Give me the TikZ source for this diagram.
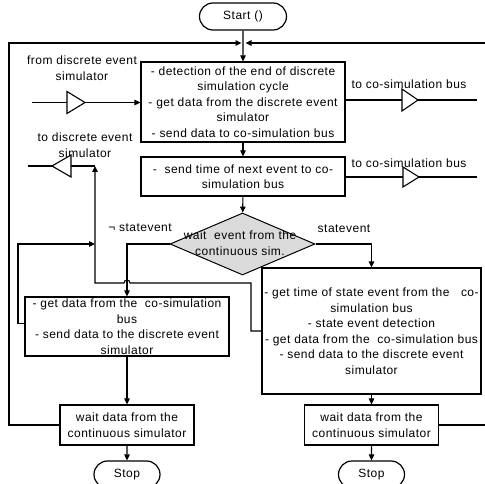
\documentclass[tikz,border=0pt]{standalone}
\usepackage{fontspec}
\setmainfont{Liberation Sans}[LetterSpace=4.0]
\usetikzlibrary{shapes.geometric,shapes.misc,arrows.meta}
\begin{document}
\begin{tikzpicture}[x=1pt,y=-1pt,
  every node/.style={font=\fontsize{12}{15.5}\selectfont},
  box/.style={draw,line width=1.2pt,rectangle,align=center,inner sep=0pt},
  term/.style={draw,line width=1.2pt,rounded rectangle,minimum width=66pt,minimum height=27pt,inner sep=0pt},
  decision/.style={draw,line width=1pt,diamond,fill=gray!28,minimum width=145pt,minimum height=62pt,inner sep=0pt},
  wire/.style={line width=1.1pt},
  arr/.style={wire,-{Triangle[length=6pt,width=5.5pt]}},
  buf/.style={line width=1.1pt,fill=white},
  lbl/.style={align=center,inner sep=0pt}
]
\useasboundingbox (0,0) rectangle (485,484);

% ---- main blocks ----
\node[term,minimum width=87pt] (start) at (243,16.5) {Start ()};
\node[box,minimum width=204pt,minimum height=80pt] (b1) at (243,102)
  {- detection of the end of discrete\\ simulation cycle\\ - get data from the discrete event\\ simulator\\ - send data to co-simulation bus};
\node[box,minimum width=204pt,minimum height=39pt] (b2) at (243,176.5)
  {-\ \ send time of next event to co-\\ simulation bus};
\node[decision] (dec) at (242.5,244) {};
\node[lbl] (dect) at (240,243) {wait\ \ event from the\\ continuous sim.};
\node[box,minimum width=204pt,minimum height=59pt] (lb) at (127,326.5)
  {- get data from the\ \ co-simulation\\ bus\\ - send data to the discrete event\\ simulator};
\node[box,minimum width=219pt,minimum height=126pt] (rb) at (371.5,331)
  {- get time of state event from the\ \ \ co-\\ simulation bus\\ - state event detection\\ - get data from the\ \ co-simulation bus\\ - send data to the discrete event\\ simulator};
\node[box,minimum width=134pt,minimum height=40pt] (lw) at (127,425)
  {wait data from the\\ continuous simulator};
\node[box,minimum width=134pt,minimum height=40pt] (rw) at (371.5,425)
  {wait data from the\\ continuous simulator};
\node[term] (ls) at (127,474.5) {Stop};
\node[term] (rs) at (371.5,474.5) {Stop};

% ---- labels ----
\node[lbl] (lfrom) at (82,68) {from discrete event\\ simulator};
\node[lbl] (lto) at (85,145) {to discrete event\\ simulator};
\node[lbl] (lco1) at (409,84) {to co-simulation bus};
\node[lbl] (lco2) at (409,163) {to co-simulation bus};
\node[lbl] (lnot) at (140,228) {¬ statevent};
\node[lbl] (lyes) at (344,229) {statevent};

% ---- helper points ----
\coordinate (jl) at (241.5,43);
\coordinate (jr) at (245.5,43);
\coordinate (lc) at (9,43);
\coordinate (rc) at (487,43);
% input buffer
\coordinate (i0) at (32,102.5);
\coordinate (iB) at (67,102.5);
\coordinate (iT) at (85,102.5);
% output buffer 1
\coordinate (oB) at (402,100);
\coordinate (oT) at (418,100);
\coordinate (oE) at (477,100);
% output buffer 2
\coordinate (pB) at (403,177);
\coordinate (pT) at (419,177);
\coordinate (pE) at (477,177);
% buffer towards the discrete event simulator
\coordinate (tdv) at (95,166);
\coordinate (tB) at (71,166);
\coordinate (tT) at (52,166);
\coordinate (tE) at (28,166);
% feedback routes
\coordinate (lbk) at (18,244);
\coordinate (v1) at (95,244);
\coordinate (rbk) at (251,283);
\coordinate (hopR) at (130,283);
\coordinate (tdc) at (95,283);

% ---- main flow ----
\draw[arr] (start) -- (b1);
\draw[arr] (b1) -- (b2);
\draw[arr] (b2) -- (dec);
\draw[arr] (dec.west) -| (lb.north);
\draw[arr] (dec.east) -| (rb.north);
\draw[arr] (lb) -- (lw);
\draw[arr] (rb) -- (rw);
\draw[arr] (lw) -- (ls);
\draw[arr] (rw) -- (rs);

% ---- loops back to the top ----
\draw[arr] (lw.west) -| (lc) -- (jl);
\draw[arr] (rw.east) -| (rc) -- (jr);

% ---- feedback to the discrete event simulator ----
\draw[arr] ([yshift=3pt]lb.west) -| (lbk) -- (v1);
\draw[arr] (rb.west) -| (rbk) -- (hopR) arc[start angle=0,end angle=-180,radius=3] -- (tdc) -- (tdv);

% ---- buffers ----
\draw[wire] (i0) -- (iB);
\draw[buf] (iB) ++(0,-11) -- (iT) -- ++(-18,11) -- cycle;
\draw[arr] (iT) -- (b1.west |- iT);

\draw[wire] (b1.east |- oB) -- (oB);
\draw[buf] (oB) ++(0,-11) -- (oT) -- ++(-16,11) -- cycle;
\draw[wire] (oT) -- (oE);

\draw[wire] (b2.east |- pB) -- (pB);
\draw[buf] (pB) ++(0,-10) -- (pT) -- ++(-16,10) -- cycle;
\draw[wire] (pT) -- (pE);

\draw[wire] (tdv) -- (tB);
\draw[buf] (tB) ++(0,-11) -- (tT) -- ++(19,11) -- cycle;
\draw[wire] (tT) -- (tE);
\end{tikzpicture}
\end{document}
